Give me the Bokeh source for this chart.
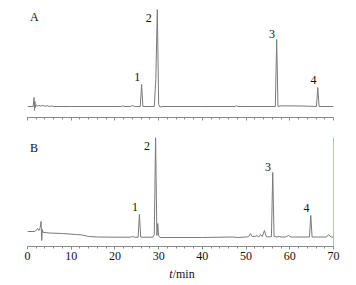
from bokeh.plotting import figure
from bokeh.layouts import column
from bokeh.models import Range1d, SingleIntervalTicker, Span, Label, ColumnDataSource
from bokeh.core.properties import value
from bokeh.embed import file_html
from bokeh.resources import INLINE

# ---- data (time in min, signal in arbitrary units) ----
time_a = [0, 1.3, 1.5, 1.6, 1.7, 1.8, 2.0, 2.3, 2.6, 3.0, 3.5, 4.0, 4.5, 5.0, 5.5, 6.0, 7, 10, 20,
          21.5, 21.8, 22.1, 23.5, 24.0, 24.5, 25.8, 26.1, 26.4, 29.0, 29.35, 29.7, 30.0, 30.3, 31,
          40, 47.5, 47.8, 48.1, 50, 56.7, 57.0, 57.3, 58, 63, 66.1, 66.4, 66.7, 70]
signal_a = [0, 0, 9, -4, 5, -1, 1.5, 0.5, 1, 0.5, 1, 0.3, 0.8, 0, 0.5, 0, 0, 0, 0,
            0, 0.8, 0, 0, 1, 0, 0, 22, 0, 0, 27, 97, 2, -0.5, 0,
            0, 0, 0.8, 0, 0, 0, 67, 0, 0.7, 0.5, 0, 19, 0, 0]

time_b = [0, 1.5, 2.0, 2.3, 2.6, 2.9, 3.1, 3.25, 3.4, 3.6, 4.0, 5, 8, 11, 12.5, 14, 16, 20,
          23.5, 24.0, 24.5, 25.3, 25.6, 25.9, 28.7, 29.0, 29.3, 29.6, 29.8, 30.0, 30.3, 31,
          40, 47, 48, 50, 50.6, 51.0, 51.4, 52.0, 52.5, 52.9, 53.3, 53.7, 54.2, 54.6, 55.0,
          55.8, 56.1, 56.4, 57, 57.6, 58, 59, 59.7, 60.3, 64.5, 64.8, 65.1, 66, 68.4, 68.9, 69.4, 70]
signal_b = [6, 6, 7, 9, 7, 10, 16, -3, 8, 5, 5, 4.5, 4, 3, 2.5, 1, 0.5, 0.3,
            0.3, 1, 0.3, 0.3, 23, 0.3, 0.3, 3, 100, 2, 14, 2, 0, 0,
            0, 0.5, 0, 0.5, 1, 4, 1, 1, 2, 0.5, 3, 1, 7, 1, 0.5,
            1, 65, 1, 0.5, 1, 0.5, 0.5, 2, 0.5, 0.5, 22, 0.5, 0.5, 0.5, 3, 0.5, 0.5]

peak_names = ["1", "2", "3", "4"]
peak_time_a = [26.1, 29.7, 57.0, 66.4]
peak_height_a = [22, 97, 67, 19]
peak_time_b = [25.6, 29.3, 56.1, 64.8]
peak_height_b = [23, 100, 65, 22]
panel_names = ["A", "B"]
x_tick_values = [0, 10, 20, 30, 40, 50, 60, 70]
x_label_italic = "t"
x_label_rest = "/min"

# ---- styling ----
FONT = "Liberation Serif"
TRACE = "#7a7a7a"
AXIS = "#8a8a8a"
TXT = "#111111"
label_dx = [-0.3, -1.3, -0.4, -0.3]
label_dy = [8, -8, 6, 8]


def base_fig(height, b_top, b_bottom, y0, y1):
    p = figure(width=356, height=height, output_backend="svg", toolbar_location=None,
               x_range=Range1d(0, 70), y_range=Range1d(y0, y1), y_axis_location=None,
               min_border_left=27, min_border_right=23, min_border_top=b_top,
               min_border_bottom=b_bottom)
    p.outline_line_color = None
    p.xgrid.visible = False
    p.ygrid.visible = False
    p.background_fill_color = None
    p.border_fill_color = "white"
    return p


def make_panel(height, b_top, b_bottom, y0, y1, t, s, pt, ph, name, show_labels):
    p = base_fig(height, b_top, b_bottom, y0, y1)
    ax = p.xaxis[0]
    ax.ticker = SingleIntervalTicker(interval=10, num_minor_ticks=5)
    ax.axis_line_color = AXIS
    ax.major_tick_line_color = AXIS
    ax.minor_tick_line_color = AXIS
    ax.major_tick_in = 0
    ax.minor_tick_in = 0
    ax.major_tick_out = 3
    ax.minor_tick_out = 2
    ax.major_label_text_font = FONT
    ax.major_label_text_font_size = "12px"
    ax.major_label_text_color = TXT
    ax.major_label_standoff = 2
    if not show_labels:
        ax.major_label_overrides = {v: "" for v in x_tick_values}
    p.line(t, s, line_color=TRACE, line_width=1)
    src = ColumnDataSource(dict(
        x=[a + d for a, d in zip(pt, label_dx)],
        y=[h + d for h, d in zip(ph, label_dy)],
        txt=peak_names))
    p.text(x="x", y="y", text="txt", source=src, text_font=value(FONT),
           text_font_size="12px", text_align="right", text_baseline="middle",
           text_color=TXT)
    p.add_layout(Label(x=0.6, y=90, text=name, text_font=FONT, text_font_size="12px",
                       text_baseline="middle", text_color=TXT))
    return p


# panel A: frame from y=4 to y=117 (1 unit = 1 px), 20 px gap below
p1 = make_panel(137, 4, 20, -11, 102, time_a, signal_a, peak_time_a, peak_height_a,
                panel_names[0], False)
# panel B: frame from y=137 to y=246, tick labels below
p2 = make_panel(131, 0, 22, -9, 100, time_b, signal_b, peak_time_b, peak_height_b,
                panel_names[1], True)
p2.add_layout(Span(location=70, dimension="height", line_color="#e8505a", line_width=1))

# axis title strip
p3 = base_fig(17, 0, 0, 0, 17)
p3.xaxis.visible = False
p3.text(x=[33.2], y=[12], text=[x_label_italic], text_font=value(FONT), text_font_size="12px",
        text_font_style="italic", text_align="right", text_baseline="middle", text_color=TXT)
p3.text(x=[33.2], y=[12], text=[x_label_rest], text_font=value(FONT), text_font_size="12px",
        text_align="left", text_baseline="middle", text_color=TXT)

layout = column(p1, p2, p3, spacing=0)
open("out.html", "w").write(file_html(layout, INLINE))
